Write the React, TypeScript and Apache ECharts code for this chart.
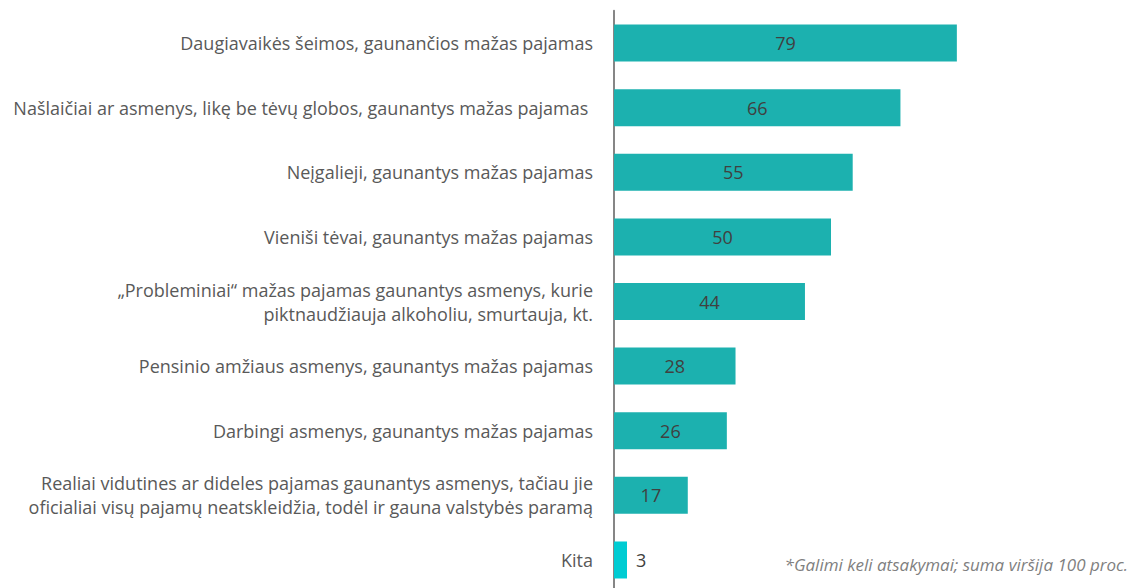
import React, { useEffect, useRef } from "react";
import * as echarts from "echarts";

const categories = [
  "Daugiavaikės šeimos, gaunančios mažas pajamas",
  "Našlaičiai ar asmenys, likę be tėvų globos, gaunantys mažas pajamas ",
  "Neįgalieji, gaunantys mažas pajamas",
  "Vieniši tėvai, gaunantys mažas pajamas",
  "„Probleminiai“ mažas pajamas gaunantys asmenys, kurie\npiktnaudžiauja alkoholiu, smurtauja, kt.",
  "Pensinio amžiaus asmenys, gaunantys mažas pajamas",
  "Darbingi asmenys, gaunantys mažas pajamas",
  "Realiai vidutines ar dideles pajamas gaunantys asmenys, tačiau jie\noficialiai visų pajamų neatskleidžia, todėl ir gauna valstybės paramą",
  "Kita",
];
const values = [79, 66, 55, 50, 44, 28, 26, 17, 3];
const footnote = "*Galimi keli atsakymai; suma viršija 100 proc.";

export default function App() {
  const ref = useRef<HTMLDivElement>(null);
  useEffect(() => {
    if (!ref.current) return;
    const chart = echarts.init(ref.current, undefined, { renderer: "svg" });
    const font = "'Open Sans', 'Noto Sans', sans-serif";
    const data = values.map((v, i) => {
      const last = i === values.length - 1;
      return {
        value: v,
        itemStyle: { color: last ? "#00CCD3" : "#1CB1AF" },
        label: last
          ? { show: true, position: "right", distance: 9 }
          : { show: true, position: "inside" },
      };
    });
    chart.setOption({
      animation: false,
      grid: { left: 614, top: 10.7, height: 581.6, right: 84, containLabel: false },
      xAxis: {
        type: "value",
        min: 0,
        max: 100,
        show: false,
      },
      yAxis: {
        type: "category",
        inverse: true,
        data: categories,
        axisLine: { show: true, lineStyle: { color: "#868686", width: 2 } },
        axisTick: { show: false },
        axisLabel: {
          margin: 21,
          color: "#595959",
          fontSize: 18,
          fontFamily: font,
          lineHeight: 24,
          align: "right",
        },
      },
      series: [
        {
          type: "bar",
          data,
          barWidth: 37,
          label: {
            color: "#404040",
            fontSize: 18,
            fontFamily: font,
          },
        },
      ],
      graphic: [
        {
          type: "text",
          right: 4,
          top: 556,
          style: {
            text: footnote,
            fill: "#7F7F7F",
            font: `italic 17px ${font}`,
          },
        },
      ],
    });
    return () => chart.dispose();
  }, []);
  return (
    <div style={{ width: 1132, height: 588, position: "absolute", left: 0, top: 0, overflow: "hidden" }}>
      <div ref={ref} style={{ width: 1132, height: 600 }} />
    </div>
  );
}
